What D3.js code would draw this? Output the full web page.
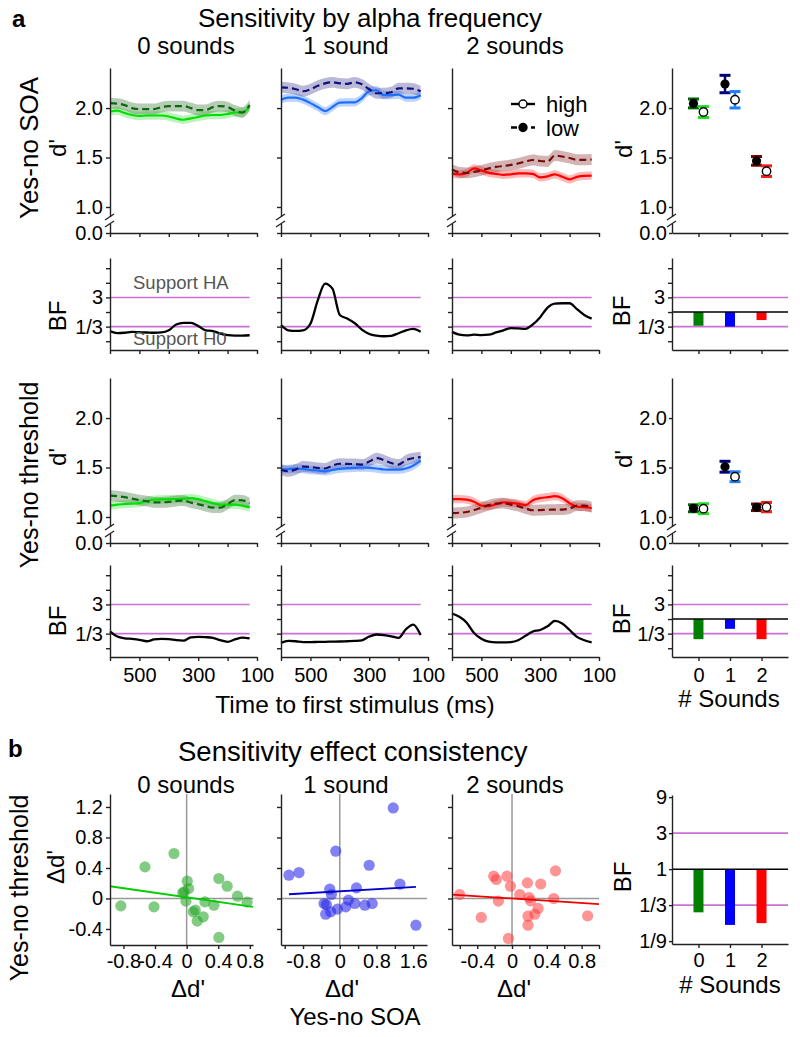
<!DOCTYPE html>
<html><head><meta charset="utf-8">
<script src="https://cdn.jsdelivr.net/npm/d3@7"></script>
<style>body{margin:0;background:#fff}svg{display:block}</style>
</head><body><svg id="c" width="800" height="1037"></svg>
<script>
// ---------------- DATA ----------------
const times = [600,575,550,525,500,475,450,425,400,375,350,325,300,275,250,225,200,175,150,125];
const xTicks = [600,500,400,300,200,100];
const xTickLabels = [500,300,100];
const soundTitles = ["0 sounds","1 sound","2 sounds"];
const soundCats = ["0","1","2"];

// Yes-no SOA d' (high alpha solid, low alpha dashed)
const soaHigh0 = [1.965,1.975,1.95,1.93,1.92,1.925,1.925,1.925,1.915,1.895,1.882,1.895,1.91,1.925,1.93,1.93,1.94,1.955,1.955,2.015];
const soaLow0  = [2.05,2.045,2.03,2.00,1.99,1.99,1.99,2.01,2.02,2.02,2.02,2.00,1.98,1.98,2.01,2.02,2.01,1.975,1.955,2.03];
const soaHigh1 = [2.085,2.105,2.105,2.085,2.05,2.01,1.97,2.01,2.055,2.057,2.057,2.10,2.17,2.18,2.13,2.13,2.135,2.105,2.105,2.13];
const soaLow1  = [2.21,2.205,2.19,2.17,2.19,2.225,2.25,2.26,2.25,2.245,2.26,2.24,2.19,2.15,2.15,2.16,2.20,2.20,2.195,2.17];
const soaHigh2 = [1.34,1.33,1.345,1.39,1.37,1.345,1.335,1.325,1.33,1.34,1.34,1.335,1.30,1.31,1.33,1.305,1.28,1.305,1.315,1.317];
const soaLow2  = [1.38,1.35,1.345,1.355,1.37,1.39,1.405,1.415,1.425,1.44,1.46,1.475,1.465,1.46,1.52,1.51,1.495,1.477,1.477,1.48];
// Yes-no threshold d'
const thrHigh0 = [1.114,1.125,1.13,1.135,1.14,1.16,1.175,1.178,1.18,1.182,1.185,1.19,1.18,1.16,1.14,1.125,1.124,1.124,1.114,1.097];
const thrLow0  = [1.215,1.21,1.2,1.185,1.17,1.16,1.148,1.148,1.152,1.162,1.165,1.145,1.13,1.11,1.095,1.095,1.13,1.17,1.168,1.14];
const thrHigh1 = [1.478,1.485,1.49,1.485,1.475,1.47,1.462,1.475,1.487,1.493,1.497,1.50,1.497,1.49,1.48,1.478,1.478,1.49,1.52,1.57];
const thrLow1  = [1.478,1.462,1.48,1.51,1.505,1.495,1.49,1.52,1.538,1.536,1.535,1.53,1.56,1.595,1.575,1.545,1.53,1.575,1.595,1.605];
const thrHigh2 = [1.18,1.18,1.175,1.155,1.115,1.11,1.13,1.148,1.143,1.135,1.12,1.17,1.19,1.20,1.21,1.19,1.14,1.105,1.10,1.09];
const thrLow2  = [1.04,1.043,1.05,1.07,1.095,1.12,1.135,1.14,1.125,1.11,1.085,1.068,1.07,1.073,1.074,1.075,1.085,1.115,1.115,1.10];
const bandHalfHigh = 0.042, bandHalfLow = 0.055;

// BF time courses, log3(BF)
const bfSoa0 = [-1.31,-1.45,-1.42,-1.36,-1.38,-1.40,-1.42,-1.40,-1.25,-0.85,-0.74,-0.74,-0.95,-1.25,-1.30,-1.48,-1.58,-1.61,-1.61,-1.59];
const bfSoa1 = [-0.9,-1.25,-1.29,-1.25,-0.8,0.8,1.95,1.6,-0.2,-0.45,-0.75,-1.2,-1.5,-1.62,-1.66,-1.63,-1.45,-1.25,-1.15,-1.35];
const bfSoa2 = [-1.36,-1.55,-1.6,-1.55,-1.58,-1.55,-1.4,-1.25,-1.1,-1.12,-1.15,-0.85,-0.35,0.3,0.58,0.6,0.6,0.2,-0.2,-0.45];
const bfThr0 = [-0.84,-1.2,-1.32,-1.36,-1.42,-1.52,-1.4,-1.36,-1.37,-1.45,-1.48,-1.25,-1.22,-1.24,-1.29,-1.45,-1.56,-1.4,-1.28,-1.33];
const bfThr1 = [-1.63,-1.5,-1.52,-1.58,-1.58,-1.57,-1.56,-1.55,-1.54,-1.52,-1.5,-1.46,-1.2,-1.06,-1.1,-1.18,-1.29,-0.7,-0.38,-1.1];
const bfThr2 = [0.38,0.15,-0.25,-0.95,-1.35,-1.55,-1.6,-1.6,-1.58,-1.45,-1.15,-0.85,-0.75,-0.5,-0.12,-0.3,-0.75,-1.22,-1.45,-1.6];

// Summary d' by # sounds (mean, error)
const soaLowMean  = [2.047,2.243,1.466], soaLowErr  = [0.045,0.088,0.044];
const soaHighMean = [1.96,2.084,1.362],  soaHighErr = [0.055,0.083,0.054];
const thrLowMean  = [1.088,1.508,1.098], thrLowErr  = [0.035,0.055,0.033];
const thrHighMean = [1.084,1.407,1.10],  thrHighErr = [0.05,0.05,0.047];

// Summary BF bars, log3(BF)
const bfBarSoa  = [-0.94,-1.0,-0.55];
const bfBarThr  = [-1.38,-0.67,-1.38];
const bfBarCons = [-1.2,-1.55,-1.5];

// Consistency scatter (x: Δd' Yes-no SOA, y: Δd' Yes-no threshold)
const cons0X = [-0.833,-0.527,-0.413,-0.16,-0.05,-0.03,0.008,0.025,-0.009,0.083,0.109,0.134,0.21,0.231,0.345,0.408,0.513,0.408,0.644,0.765];
const cons0Y = [-0.097,0.414,-0.11,0.59,0.074,0.087,0.227,0.13,-0.035,-0.175,-0.153,-0.297,-0.24,-0.044,-0.088,0.262,0.161,-0.511,0.03,-0.048];
const cons1X = [-1.107,-0.888,-0.087,1.164,0.64,-0.218,-0.182,0.364,1.31,-0.342,-0.291,-0.306,-0.197,-0.051,0.131,0.189,0.328,0.546,0.706,1.659];
const cons1Y = [0.305,0.34,0.62,1.187,0.436,0.122,0.052,0.139,0.187,-0.066,-0.079,-0.206,-0.175,-0.14,-0.11,-0.022,-0.066,-0.088,-0.066,-0.35];
const cons2X = [-0.603,-0.353,-0.211,-0.18,-0.157,-0.058,-0.018,-0.041,0.089,0.177,0.184,0.184,0.196,0.215,0.262,0.33,0.3,0.5,0.48,0.869];
const cons2Y = [0.052,-0.249,0.292,0.249,-0.035,0.292,0.161,-0.524,0.052,0.205,-0.232,-0.35,0.013,-0.031,-0.206,0.19,-0.131,0.362,0.0,-0.228];
const fitIntercept = [0.015,0.094,0.0];
const fitSlope     = [-0.15,0.0347,-0.075];
const fitXMin      = [-0.97,-1.107,-0.69];
const fitXMax      = [0.84,1.659,1.0];

// ---------------- STYLE ----------------
const FONT = '"Liberation Sans", Arial, Helvetica, sans-serif';
const AX = "#222";
const PURPLE = "#cc6fd6";
const highLine = ["#00e000","#1f6fff","#ff0000"];
const lowLine  = ["#0b6b0b","#10107a","#7a0a0a"];
const highBand = ["#50e050","#4a8cff","#ff4040"];
const lowBand  = ["#3f7a3f","#4a4a99","#8a3a3a"];
const barCol   = ["#008000","#0000ff","#ff0000"];
const errLow   = ["#006400","#00007a","#7a0000"];
const errHigh  = ["#22dd22","#1e80ff","#ff1a1a"];
const dotFill  = ["rgba(40,165,40,0.58)","rgba(40,40,235,0.58)","rgba(255,60,60,0.55)"];
const fitCol   = ["#00cc00","#0000cc","#ee0000"];

const svg = d3.select("#c");
function label(x, y, s, o = {}) {
  const t = svg.append("text").attr("x", x).attr("y", y).text(s)
    .attr("font-family", FONT).attr("font-size", o.size || 24)
    .attr("text-anchor", o.anchor || "middle").attr("fill", o.fill || "#000");
  if (o.weight) t.attr("font-weight", o.weight);
  if (o.rotate) t.attr("transform", `rotate(-90,${x},${y})`).attr("dominant-baseline", "central");
  return t;
}
function styleAxis(g, fs = 20) {
  g.attr("font-family", FONT).attr("font-size", fs);
  g.select(".domain").attr("stroke", AX).attr("stroke-width", 1.4);
  g.selectAll(".tick line").attr("stroke", AX).attr("stroke-width", 1.4);
  g.selectAll(".tick text").attr("fill", "#000");
  return g;
}
function brk(x, yb) {
  const y1 = yb - 16, y2 = yb - 9;
  svg.append("rect").attr("x", x - 3).attr("y", y1).attr("width", 6).attr("height", y2 - y1).attr("fill", "#fff");
  [y1, y2].forEach(yy => svg.append("line").attr("x1", x - 5).attr("y1", yy + 3)
    .attr("x2", x + 4).attr("y2", yy - 3).attr("stroke", AX).attr("stroke-width", 1.3));
}
const fmt1 = d3.format(".1f");
const hy = s => String(s).replace("\u2212", "-");

// ---------------- LAYOUT ----------------
const colX = [110, 281, 452], colW = 147;
const rX = 672, rW = 116;
const dTop = 2.405, dBrk = 0.737;
const catScale = d3.scalePoint().domain(soundCats).range([rX, rX + rW]).padding(0.84);

const dRows = [
  {top: 68, bottom: 233, high: [soaHigh0, soaHigh1, soaHigh2], low: [soaLow0, soaLow1, soaLow2],
   lm: soaLowMean, le: soaLowErr, hm: soaHighMean, he: soaHighErr},
  {top: 378, bottom: 543, high: [thrHigh0, thrHigh1, thrHigh2], low: [thrLow0, thrLow1, thrLow2],
   lm: thrLowMean, le: thrLowErr, hm: thrHighMean, he: thrHighErr}
];
const bfRows = [
  {top: 258, bottom: 350, data: [bfSoa0, bfSoa1, bfSoa2], bars: bfBarSoa, labels: false},
  {top: 565, bottom: 657, data: [bfThr0, bfThr1, bfThr2], bars: bfBarThr, labels: true}
];

// ---------------- d' time course panels ----------------
dRows.forEach((row, r) => {
  const y = d3.scaleLinear().domain([dBrk, dTop]).range([row.bottom, row.top]);
  for (let c = 0; c < 3; c++) {
    const x = d3.scaleLinear().domain([600, 100]).range([colX[c], colX[c] + colW]);
    const area = (arr, h) => d3.area().curve(d3.curveMonotoneX)
      .x((d, i) => x(times[i])).y0((d, i) => y(arr[i] - h)).y1((d, i) => y(arr[i] + h));
    const line = arr => d3.line().curve(d3.curveMonotoneX).x((d, i) => x(times[i])).y((d, i) => y(arr[i]));
    svg.append("path").attr("d", area(row.high[c], bandHalfHigh)(times)).attr("fill", highBand[c]).attr("opacity", 0.38);
    svg.append("path").attr("d", area(row.low[c], bandHalfLow)(times)).attr("fill", lowBand[c]).attr("opacity", 0.38);
    svg.append("path").attr("d", line(row.high[c])(times)).attr("fill", "none").attr("stroke", highLine[c]).attr("stroke-width", 2.2);
    svg.append("path").attr("d", line(row.low[c])(times)).attr("fill", "none").attr("stroke", lowLine[c])
      .attr("stroke-width", 2.2).attr("stroke-dasharray", "7,4");
    styleAxis(svg.append("g").attr("transform", `translate(${colX[c]},0)`)
      .call(d3.axisLeft(y).tickValues([dBrk, 1, 1.5, 2]).tickSize(4).tickPadding(3).tickSizeOuter(0)
        .tickFormat(v => c === 0 ? (v === dBrk ? "0.0" : fmt1(v)) : "")));
    styleAxis(svg.append("g").attr("transform", `translate(0,${row.bottom})`)
      .call(d3.axisBottom(x).tickValues(xTicks).tickSize(4).tickSizeOuter(0).tickFormat(() => "")));
    brk(colX[c], row.bottom);
  }
  // right summary panel
  const lowX = i => catScale(soundCats[i]) - 5, highX = i => catScale(soundCats[i]) + 5;
  const eb = (xf, m, e, col) => {
    const g = svg.append("g");
    soundCats.forEach((k, i) => {
      g.append("line").attr("x1", xf(i)).attr("x2", xf(i)).attr("y1", y(m[i] - e[i])).attr("y2", y(m[i] + e[i]))
        .attr("stroke", col[i]).attr("stroke-width", 2.5);
      [m[i] - e[i], m[i] + e[i]].forEach(v => g.append("line").attr("x1", xf(i) - 5.5).attr("x2", xf(i) + 5.5)
        .attr("y1", y(v)).attr("y2", y(v)).attr("stroke", col[i]).attr("stroke-width", 3));
    });
  };
  eb(lowX, row.lm, row.le, errLow);
  eb(highX, row.hm, row.he, errHigh);
  soundCats.forEach((k, i) => {
    svg.append("circle").attr("cx", lowX(i)).attr("cy", y(row.lm[i])).attr("r", 4.6).attr("fill", "#000");
    svg.append("circle").attr("cx", highX(i)).attr("cy", y(row.hm[i])).attr("r", 4.2).attr("fill", "#fff")
      .attr("stroke", "#000").attr("stroke-width", 1.4);
  });
  styleAxis(svg.append("g").attr("transform", `translate(${rX},0)`)
    .call(d3.axisLeft(y).tickValues([dBrk, 1, 1.5, 2]).tickSize(3).tickPadding(2).tickSizeOuter(0)
      .tickFormat(v => v === dBrk ? "0.0" : fmt1(v))));
  styleAxis(svg.append("g").attr("transform", `translate(0,${row.bottom})`)
    .call(d3.axisBottom(catScale).tickSize(4).tickSizeOuter(0).tickFormat(() => "")));
  brk(rX, row.bottom);
});

// ---------------- BF time course panels ----------------
const bfTickLab = {"-2": "1/9", "-1": "1/3", "0": "1", "1": "3", "2": "9"};
bfRows.forEach((row, r) => {
  const y = d3.scaleLinear().domain([-2.6, 3.7]).range([row.bottom, row.top]);
  for (let c = 0; c < 3; c++) {
    const x = d3.scaleLinear().domain([600, 100]).range([colX[c], colX[c] + colW]);
    [1, -1].forEach(k => svg.append("line").attr("x1", x(times[0])).attr("x2", x(times[times.length - 1]))
      .attr("y1", y(k)).attr("y2", y(k)).attr("stroke", PURPLE).attr("stroke-width", 1.6));
    svg.append("path").attr("d", d3.line().curve(d3.curveMonotoneX).x((d, i) => x(times[i])).y(d => y(d))(row.data[c]))
      .attr("fill", "none").attr("stroke", "#000").attr("stroke-width", 2.3);
    styleAxis(svg.append("g").attr("transform", `translate(${colX[c]},0)`)
      .call(d3.axisLeft(y).tickValues([-2, -1, 0, 1, 2, 3]).tickSize(4).tickPadding(3).tickSizeOuter(0)
        .tickFormat(v => c === 0 && Math.abs(v) === 1 ? bfTickLab[v] : "")));
    styleAxis(svg.append("g").attr("transform", `translate(0,${row.bottom})`)
      .call(d3.axisBottom(x).tickValues(xTicks).tickSize(4).tickPadding(7).tickSizeOuter(0)
        .tickFormat(v => row.labels && xTickLabels.includes(v) ? v : "")));
  }
  // right BF bars
  [1, -1].forEach(k => svg.append("line").attr("x1", rX).attr("x2", rX + rW).attr("y1", y(k)).attr("y2", y(k))
    .attr("stroke", PURPLE).attr("stroke-width", 1.6));
  row.bars.forEach((v, i) => svg.append("rect").attr("x", catScale(soundCats[i]) - 5).attr("width", 10)
    .attr("y", y(Math.max(0, v))).attr("height", Math.abs(y(v) - y(0))).attr("fill", barCol[i]));
  svg.append("line").attr("x1", rX).attr("x2", rX + rW).attr("y1", y(0)).attr("y2", y(0)).attr("stroke", "#000").attr("stroke-width", 1.5);
  styleAxis(svg.append("g").attr("transform", `translate(${rX},0)`)
    .call(d3.axisLeft(y).tickValues([-2, -1, 0, 1, 2, 3]).tickSize(4).tickPadding(3).tickSizeOuter(0)
      .tickFormat(v => Math.abs(v) === 1 ? bfTickLab[v] : "")));
  styleAxis(svg.append("g").attr("transform", `translate(0,${row.bottom})`)
    .call(d3.axisBottom(catScale).tickSize(4).tickPadding(7).tickSizeOuter(0).tickFormat(v => row.labels ? v : "")));
});

// support labels
label(133, 289, "Support HA", {size: 18.5, anchor: "start", fill: "#555"});
label(133, 345, "Support H0", {size: 18.5, anchor: "start", fill: "#555"});

// legend
const lgX = 511;
[["high", 104, false], ["low", 127.5, true]].forEach(([t, ly, dashed]) => {
  const l = svg.append("line").attr("x1", lgX).attr("x2", lgX + 24).attr("y1", ly).attr("y2", ly)
    .attr("stroke", "#000").attr("stroke-width", 2.4);
  if (dashed) l.attr("stroke-dasharray", "6,4");
  svg.append("circle").attr("cx", lgX + 12).attr("cy", ly).attr("r", 4)
    .attr("fill", dashed ? "#000" : "#fff").attr("stroke", "#000").attr("stroke-width", 1.4);
  label(lgX + 35, ly + 8, t, {size: 22, anchor: "start"});
});

// ---------------- Section b: scatter ----------------
const sx = [
  d3.scaleLinear().domain([-0.97, 0.84]).range([110, 253]),
  d3.scaleLinear().domain([-1.28, 1.9]).range([281, 427]),
  d3.scaleLinear().domain([-0.69, 1.0]).range([452, 599])
];
const sy = d3.scaleLinear().domain([-0.61, 1.37]).range([945, 794]);
const consX = [cons0X, cons1X, cons2X], consY = [cons0Y, cons1Y, cons2Y];
const sxTicks = [[-0.8, -0.4, 0, 0.4, 0.8], [-1.2, -0.8, -0.4, 0, 0.4, 0.8, 1.2, 1.6], [-0.6, -0.4, -0.2, 0, 0.2, 0.4, 0.6, 0.8, 1.0]];
const sxLabels = [[-0.8, -0.4, 0, 0.4, 0.8], [-0.8, 0, 0.8, 1.6], [-0.4, 0, 0.4, 0.8]];
const numFmt = v => Math.abs(v) < 1e-9 ? "0" : hy(fmt1(v));
for (let c = 0; c < 3; c++) {
  const x = sx[c];
  svg.append("line").attr("x1", x(0)).attr("x2", x(0)).attr("y1", sy.range()[0]).attr("y2", sy.range()[1])
    .attr("stroke", "#999").attr("stroke-width", 1.5);
  svg.append("line").attr("x1", x.range()[0]).attr("x2", x.range()[1]).attr("y1", sy(0)).attr("y2", sy(0))
    .attr("stroke", "#999").attr("stroke-width", 1.5);
  consX[c].forEach((v, i) => svg.append("circle").attr("cx", x(v)).attr("cy", sy(consY[c][i])).attr("r", 5.6).attr("fill", dotFill[c]));
  svg.append("line").attr("x1", x(fitXMin[c])).attr("x2", x(fitXMax[c]))
    .attr("y1", sy(fitIntercept[c] + fitSlope[c] * fitXMin[c])).attr("y2", sy(fitIntercept[c] + fitSlope[c] * fitXMax[c]))
    .attr("stroke", fitCol[c]).attr("stroke-width", 1.8);
  styleAxis(svg.append("g").attr("transform", `translate(${x.range()[0]},0)`)
    .call(d3.axisLeft(sy).tickValues([-0.4, 0, 0.4, 0.8, 1.2]).tickSize(4).tickPadding(3).tickSizeOuter(0)
      .tickFormat(v => c === 0 ? numFmt(v) : "")));
  styleAxis(svg.append("g").attr("transform", `translate(0,${sy.range()[0]})`)
    .call(d3.axisBottom(x).tickValues(sxTicks[c]).tickSize(4).tickPadding(5).tickSizeOuter(0)
      .tickFormat(v => sxLabels[c].some(l => Math.abs(l - v) < 1e-9) ? numFmt(v) : "")));
}

// Section b: BF bars
const yc = d3.scaleLinear().domain([-2.08, 2.06]).range([944, 795]);
[1, -1].forEach(k => svg.append("line").attr("x1", rX).attr("x2", rX + rW).attr("y1", yc(k)).attr("y2", yc(k))
  .attr("stroke", PURPLE).attr("stroke-width", 1.6));
bfBarCons.forEach((v, i) => svg.append("rect").attr("x", catScale(soundCats[i]) - 5).attr("width", 10)
  .attr("y", yc(Math.max(0, v))).attr("height", Math.abs(yc(v) - yc(0))).attr("fill", barCol[i]));
svg.append("line").attr("x1", rX).attr("x2", rX + rW).attr("y1", yc(0)).attr("y2", yc(0)).attr("stroke", "#000").attr("stroke-width", 1.5);
styleAxis(svg.append("g").attr("transform", `translate(${rX},0)`)
  .call(d3.axisLeft(yc).tickValues([-2, -1, 0, 1, 2]).tickSize(3).tickPadding(2).tickSizeOuter(0).tickFormat(v => bfTickLab[v])));
styleAxis(svg.append("g").attr("transform", `translate(0,944)`)
  .call(d3.axisBottom(catScale).tickSize(4).tickPadding(5).tickSizeOuter(0)));

// ---------------- TEXT ----------------
label(12, 27, "a", {size: 24, anchor: "start", weight: "bold"});
label(198, 27, "Sensitivity by alpha frequency", {size: 26, anchor: "start"});
const titleX = [186, 346, 515];
soundTitles.forEach((t, i) => label(titleX[i], 54, t, {size: 24}));
label(29, 148, "Yes-no SOA", {size: 26, rotate: true});
label(29, 475, "Yes-no threshold", {size: 25, rotate: true});
[[57, 148], [57, 457], [623, 149], [623, 459]].forEach(([x, y]) => label(x, y, "d'", {size: 24, rotate: true}));
[[57, 316], [57, 621], [621, 311], [621, 619], [622, 877]].forEach(([x, y]) => label(x, y, "BF", {size: 24, rotate: true}));
label(355, 713, "Time to first stimulus (ms)", {size: 24.5});
label(729, 707, "# Sounds", {size: 24});

label(8, 757, "b", {size: 24, anchor: "start", weight: "bold"});
label(178, 761, "Sensitivity effect consistency", {size: 27.5, anchor: "start"});
soundTitles.forEach((t, i) => label(titleX[i], 793, t, {size: 24}));
label(19, 888, "Yes-no threshold", {size: 25, rotate: true});
label(55, 867, "\u0394d'", {size: 24, rotate: true});
[188, 342, 514].forEach(x => label(x, 997, "\u0394d'", {size: 24}));
label(355, 1025, "Yes-no SOA", {size: 24});
label(730, 993, "# Sounds", {size: 24});
</script></body></html>
